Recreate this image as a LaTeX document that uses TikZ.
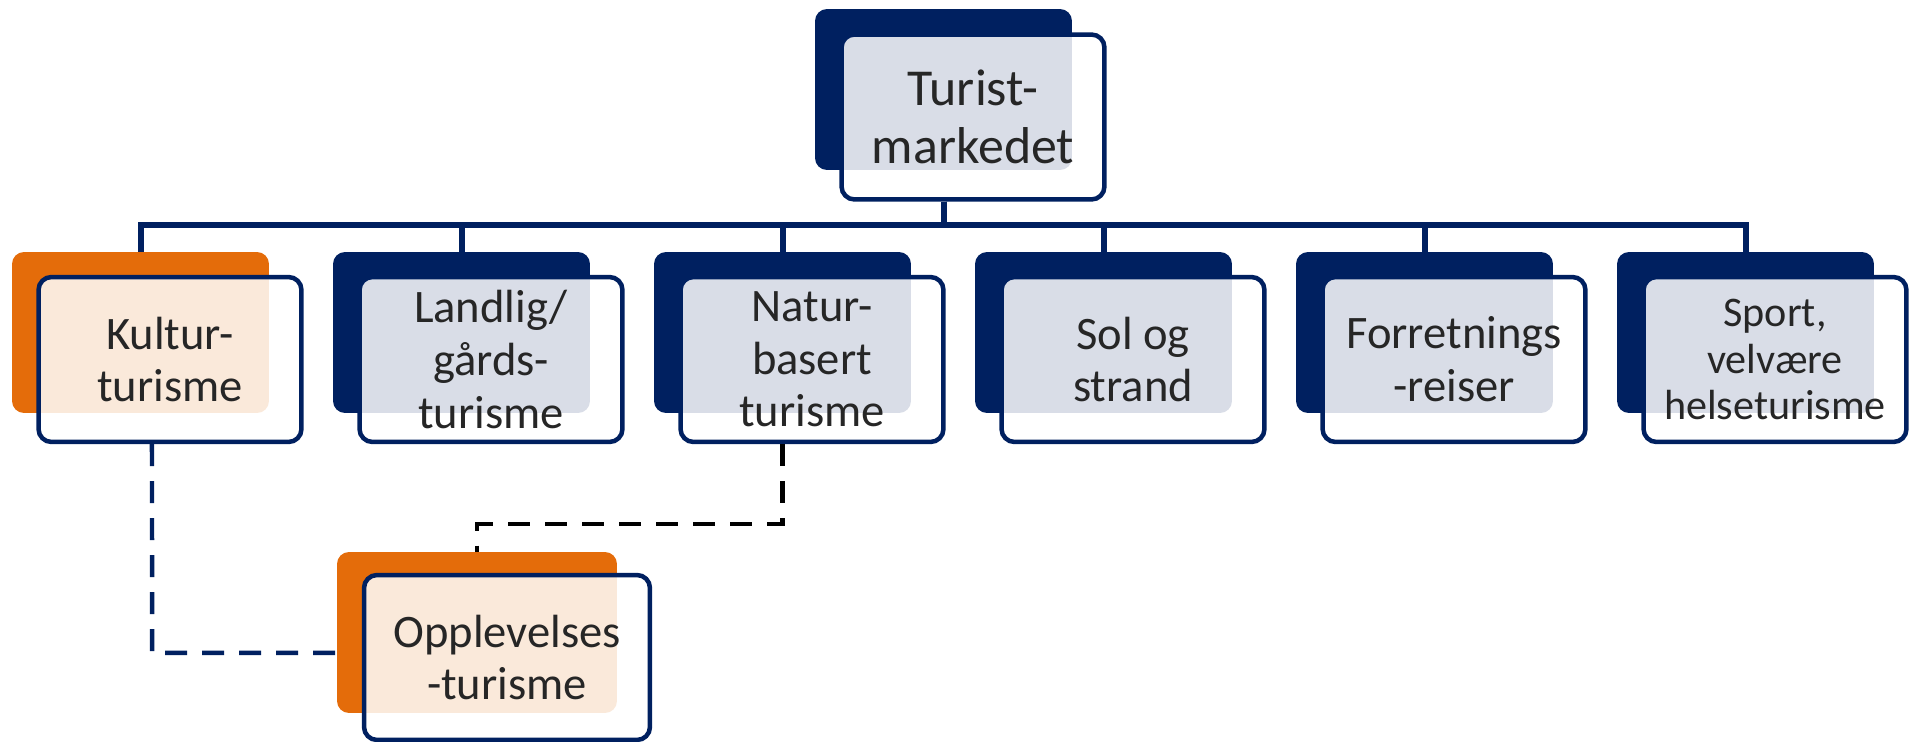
\documentclass[tikz,border=0pt]{standalone}
\usepackage{fontspec}
\setmainfont{Carlito}
\definecolor{navy}{HTML}{002060}
\definecolor{orng}{HTML}{E46C0A}

\begin{document}
\begin{tikzpicture}
  [x=0.02cm, y=-0.02cm,
   back/.style={rounded corners=0.24cm, minimum width=5.14cm, minimum height=3.22cm, inner sep=0pt},
   front/.style={draw=navy, line width=0.09cm, rounded corners=0.26cm, fill=white, fill opacity=0.85,
     text opacity=1, text=black!85, minimum width=5.26cm, minimum height=3.3cm, inner sep=0pt, align=center},
   conn/.style={draw=navy, line width=0.12cm},
   link/.style={line width=0.09cm, dash pattern=on 0.44cm off 0.3cm}]
  \useasboundingbox (0,0) rectangle (1910,742);
  % top
  \node (broot) at (943.5, 89.5) [back, fill=navy] {};
  \node (froot) at ([shift={(29.5,27.5)}]broot.center) [front, font=\fontsize{29.5}{33}\selectfont] {Turist-\\markedet};
  \coordinate (hub) at (943.5, 225);
  % second row
  \foreach \txt/\col/\sz/\bs [count=\i from 0] in
    {{Kultur-\\turisme}/orng/26.5/30, {Landlig/\\gårds-\\turisme}/navy/26.5/30,
     {Natur-\\basert\\turisme}/navy/26.5/30, {Sol og\\strand}/navy/26.5/30,
     {Forretnings\\-reiser}/navy/26.5/30, {Sport,\\velvære\\helseturisme}/navy/24/26.6}{
    \node (b\i) at (140.5+321*\i, 332.5) [back, fill=\col] {};
    \node (f\i) at ([shift={(29.5,27)}]b\i.center) [front, font=\fontsize{\sz}{\bs}\selectfont] {\txt};
    \draw [conn] (broot.center |- froot.south) -- (hub) -| (b\i.north);
  }
  % bottom
  \node (bopp) at (477, 632.5) [back, fill=orng, minimum width=5.6cm] {};
  \node (fopp) at ([shift={(30,25)}]bopp.center) [front, minimum width=5.72cm, font=\fontsize{26.5}{30}\selectfont] {Opplevelses\\-turisme};
  \draw [link, navy] ([xshift=0.23cm]b0.center |- f0.south) -- (152, 653) -- (bopp.west |- 0,653);
  \draw [link, black] (b2.center |- f2.south) -- ++(0,80) -| (bopp.north);
\end{tikzpicture}
\end{document}
